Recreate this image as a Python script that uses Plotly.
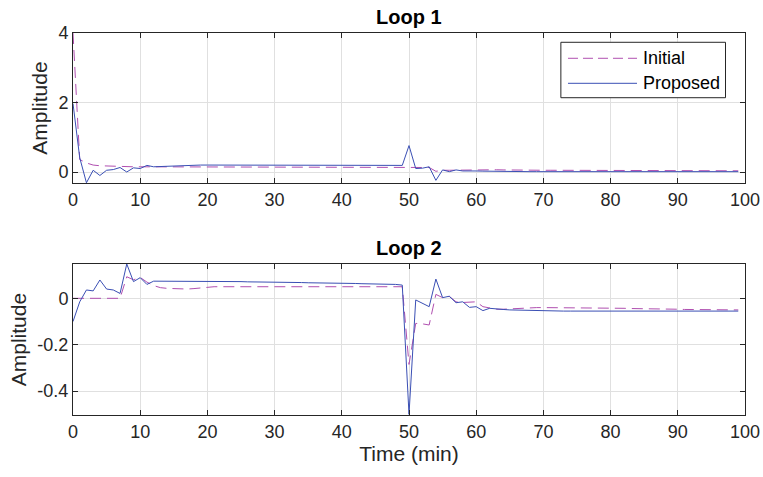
import plotly.graph_objects as go
from plotly.subplots import make_subplots

time_min = list(range(100))

loop1_initial = [4.0, 0.36, 0.26, 0.20, 0.18, 0.17, 0.16, 0.15, 0.15, 0.15,
                 0.15, 0.15, 0.15, 0.145, 0.145, 0.145, 0.145, 0.145, 0.145, 0.145,
                 0.145, 0.145, 0.145, 0.145, 0.145, 0.145, 0.145, 0.145, 0.145, 0.145,
                 0.145, 0.145, 0.145, 0.145, 0.145, 0.145, 0.145, 0.145, 0.145, 0.145,
                 0.145, 0.145, 0.145, 0.145, 0.145, 0.145, 0.145, 0.145, 0.145, 0.145,
                 0.145, 0.14, 0.135, 0.13, 0.02, 0.05, 0.05, 0.055, 0.06, 0.065,
                 0.07, 0.07, 0.07, 0.065, 0.06, 0.055, 0.05, 0.05, 0.05, 0.05,
                 0.05, 0.05, 0.05, 0.048, 0.046, 0.045, 0.044, 0.043, 0.042, 0.042,
                 0.041, 0.041, 0.04, 0.04, 0.04, 0.04, 0.04, 0.04, 0.04, 0.04,
                 0.04, 0.04, 0.04, 0.04, 0.04, 0.038, 0.037, 0.036, 0.035, 0.035]

loop1_proposed = [1.97, 0.41, -0.31, 0.05, -0.10, 0.05, 0.07, 0.13, 0.0, 0.12,
                  0.10, 0.19, 0.15, 0.16, 0.17, 0.18, 0.185, 0.19, 0.195, 0.20,
                  0.20, 0.20, 0.20, 0.20, 0.20, 0.20, 0.20, 0.20, 0.20, 0.20,
                  0.20, 0.20, 0.20, 0.20, 0.20, 0.20, 0.20, 0.20, 0.20, 0.20,
                  0.195, 0.195, 0.195, 0.195, 0.19, 0.19, 0.19, 0.19, 0.18, 0.19,
                  0.76, 0.10, 0.11, 0.15, -0.24, 0.06, 0.01, 0.06, 0.03, 0.04,
                  0.03, 0.025, 0.02, 0.02, 0.015, 0.01, 0.01, 0.01, 0.01, 0.01,
                  0.01, 0.01, 0.01, 0.01, 0.01, 0.01, 0.01, 0.01, 0.01, 0.01,
                  0.01, 0.01, 0.01, 0.01, 0.01, 0.01, 0.01, 0.01, 0.01, 0.01,
                  0.01, 0.01, 0.01, 0.01, 0.01, 0.01, 0.01, 0.01, 0.01, 0.01]

loop2_initial = [0.0, 0.0, 0.0, 0.0, 0.0, 0.0, 0.0, 0.0, 0.093, 0.08,
                 0.09, 0.07, 0.055, 0.046, 0.043, 0.041, 0.04, 0.04, 0.042, 0.045,
                 0.048, 0.05, 0.05, 0.05, 0.05, 0.05, 0.05, 0.05, 0.05, 0.05,
                 0.05, 0.05, 0.05, 0.05, 0.05, 0.05, 0.05, 0.05, 0.05, 0.05,
                 0.05, 0.05, 0.05, 0.05, 0.05, 0.05, 0.05, 0.05, 0.05, 0.05,
                 -0.285, -0.108, -0.11, -0.115, 0.017, 0.003, 0.008, -0.015, -0.018, -0.016,
                 -0.015, -0.036, -0.043, -0.047, -0.047, -0.045, -0.043, -0.042, -0.041, -0.04,
                 -0.04, -0.04, -0.04, -0.04, -0.04, -0.04, -0.04, -0.041, -0.041, -0.042,
                 -0.042, -0.043, -0.043, -0.044, -0.044, -0.045, -0.045, -0.046, -0.046, -0.047,
                 -0.047, -0.048, -0.048, -0.049, -0.049, -0.05, -0.05, -0.05, -0.05, -0.05]

loop2_proposed = [-0.10, -0.015, 0.036, 0.032, 0.079, 0.04, 0.036, 0.021, 0.148, 0.072,
                  0.089, 0.06, 0.074, 0.074, 0.075, 0.075, 0.075, 0.075, 0.075, 0.075,
                  0.074, 0.074, 0.073, 0.073, 0.072, 0.072, 0.071, 0.071, 0.07, 0.07,
                  0.07, 0.069, 0.069, 0.068, 0.068, 0.067, 0.067, 0.066, 0.066, 0.065,
                  0.065, 0.064, 0.064, 0.063, 0.063, 0.062, 0.062, 0.061, 0.06, 0.057,
                  -0.50, -0.007, -0.02, -0.036, 0.083, 0.003, 0.009, -0.019, -0.015, -0.039,
                  -0.036, -0.053, -0.043, -0.047, -0.048, -0.05, -0.051, -0.052, -0.052, -0.053,
                  -0.053, -0.054, -0.054, -0.055, -0.055, -0.055, -0.056, -0.056, -0.056, -0.056,
                  -0.057, -0.057, -0.057, -0.057, -0.057, -0.057, -0.057, -0.057, -0.057, -0.057,
                  -0.057, -0.057, -0.057, -0.057, -0.056, -0.056, -0.056, -0.056, -0.055, -0.055]

x_ticks = list(range(0, 101, 10))
loop1_yticks = [0, 2, 4]
loop1_yticklabels = ["0", "2", "4"]
loop2_yticks = [-0.4, -0.2, 0]
loop2_yticklabels = ["-0.4", "-0.2", "0"]
legend_names = ["Initial", "Proposed"]

INIT_COLOR = "#b04fb0"
PROP_COLOR = "#3a4fb4"
INIT_DASH = "11px,6px"
FONT = "Liberation Sans, Arial, sans-serif"
AX = "#262626"

fig = make_subplots(rows=2, cols=1, vertical_spacing=0.0)

fig.add_trace(go.Scatter(x=time_min, y=loop1_initial, mode="lines", name=legend_names[0],
                         line=dict(color=INIT_COLOR, width=1, dash=INIT_DASH)), row=1, col=1)
fig.add_trace(go.Scatter(x=time_min, y=loop1_proposed, mode="lines", name=legend_names[1],
                         line=dict(color=PROP_COLOR, width=1)), row=1, col=1)
fig.add_trace(go.Scatter(x=time_min, y=loop2_initial, mode="lines", name=legend_names[0],
                         line=dict(color=INIT_COLOR, width=1, dash=INIT_DASH)), row=2, col=1)
fig.add_trace(go.Scatter(x=time_min, y=loop2_proposed, mode="lines", name=legend_names[1],
                         line=dict(color=PROP_COLOR, width=1)), row=2, col=1)

axis_common = dict(showline=True, linecolor=AX, linewidth=1, mirror="ticks",
                   ticks="inside", ticklen=5, tickcolor=AX,
                   showgrid=True, gridcolor="#e0e0e0", gridwidth=1, zeroline=False,
                   automargin=False,
                   tickfont=dict(family=FONT, size=18, color=AX))

fig.update_xaxes(range=[0, 100], tickvals=x_ticks, ticklabeloverflow="allow", **axis_common)
fig.update_yaxes(**axis_common)

TITLE_FONT = dict(family=FONT, size=21, color=AX)

# custom legend (box, sample lines, labels) in paper coordinates
lg_x0, lg_x1, lg_y0, lg_y1 = 0.726, 0.971, 0.8306, 0.9757
lg_line_x0, lg_line_x1, lg_text_x = 0.7366, 0.8393, 0.845
lg_rows = [0.9338, 0.8683]

shapes = [dict(type="rect", xref="paper", yref="paper", x0=lg_x0, x1=lg_x1, y0=lg_y0, y1=lg_y1,
               line=dict(color=AX, width=1), fillcolor="white", layer="above")]
shapes.append(dict(type="line", xref="paper", yref="paper", x0=lg_line_x0, x1=lg_line_x1,
                   y0=lg_rows[0], y1=lg_rows[0], line=dict(color=INIT_COLOR, width=1, dash="10px,5px"),
                   layer="above"))
shapes.append(dict(type="line", xref="paper", yref="paper", x0=lg_line_x0, x1=lg_line_x1,
                   y0=lg_rows[1], y1=lg_rows[1], line=dict(color=PROP_COLOR, width=1), layer="above"))

annotations = [
    dict(text="<b>Loop 1</b>", x=0.5, xref="paper", y=1.0, yref="paper", yshift=3,
         xanchor="center", yanchor="bottom", showarrow=False,
         font=dict(family=FONT, size=20, color="black")),
    dict(text="<b>Loop 2</b>", x=0.5, xref="paper", y=0.395, yref="paper", yshift=3,
         xanchor="center", yanchor="bottom", showarrow=False,
         font=dict(family=FONT, size=20, color="black")),
]
for name, yy in zip(legend_names, lg_rows):
    annotations.append(dict(text=name, x=lg_text_x, xref="paper", y=yy, yref="paper",
                            xanchor="left", yanchor="middle", showarrow=False,
                            font=dict(family=FONT, size=18, color="black")))

fig.update_layout(
    showlegend=False,
    xaxis=dict(domain=[0, 1]),
    yaxis=dict(domain=[0.607, 1.0], range=[-0.32, 4.0], tickvals=loop1_yticks, ticktext=loop1_yticklabels,
               title=dict(text="Amplitude", font=TITLE_FONT, standoff=5)),
    xaxis2=dict(title=dict(text="Time (min)", font=TITLE_FONT, standoff=3)),
    yaxis2=dict(domain=[0.0, 0.395], range=[-0.503, 0.1475], tickvals=loop2_yticks, ticktext=loop2_yticklabels,
                title=dict(text="Amplitude", font=TITLE_FONT, standoff=5)),
    width=763, height=477,
    margin=dict(l=73, r=18, t=33, b=62),
    paper_bgcolor="white", plot_bgcolor="white",
    font=dict(family=FONT, size=18, color=AX),
    shapes=shapes,
    annotations=annotations,
)

fig.write_html("out.html")
